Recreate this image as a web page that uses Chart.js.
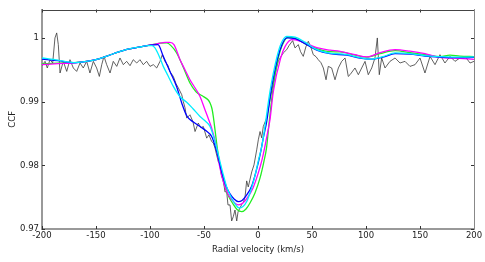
<!DOCTYPE html>
<html>
<head>
<meta charset="utf-8">
<script src="https://cdn.jsdelivr.net/npm/chart.js@4"></script>
<style>
  html, body { margin: 0; padding: 0; background: #fff; }
  #wrap { width: 485px; height: 262px; position: relative; }
</style>
</head>
<body>
<div id="wrap"><canvas id="ccf-chart"></canvas></div>
<script>
// Axis ticks
var xTicks = [-200, -150, -100, -50, 0, 50, 100, 150, 200];
var yTicks = [0.97, 0.98, 0.99, 1];

// Observed CCF (noisy, black)
var obsV = [-200, -197.2, -195.1, -192.6, -190.1, -188.0, -186.4, -184.9, -183.3, -180.3,
    -177.1, -174.1, -171.0, -167.9, -164.8, -161.8, -158.6, -155.6, -152.5, -149.4,
    -146.9, -144.7, -142.6, -140.1, -137.0, -134.0, -130.8, -127.8, -124.7, -121.6,
    -118.5, -115.5, -112.3, -109.3, -106.2, -103.1, -100, -96.9, -93.8, -90.7,
    -88.6, -86.1, -83.3, -81.5, -78.4, -75.9, -73.8, -70.6, -69.2, -67.6,
    -66.0, -63.0, -60.2, -58.3, -55.3, -52.8, -50.6, -47.5, -45.4, -42.9,
    -41.4, -39.8, -36.8, -35.2, -33.8, -32.1, -30.6, -29.0, -27.8, -25.9,
    -24.4, -22.9, -21.3, -19.7, -18.5, -16.7, -14.8, -13.6, -12.0, -10.5,
    -9.0, -5.8, -3.7, -1.2, 0.3, 1.9, 3.4, 4.9, 8.1, 11.1,
    13.9, 16.7, 18.8, 20.4, 23.4, 26.6, 28.7, 32.1, 34.3, 37.3,
    39.4, 41.9, 44.4, 46.6, 49.1, 51.2, 53.7, 55.8, 58.3, 60.5,
    63.0, 65.1, 68.2, 71.3, 74.4, 77.5, 80.6, 83.6, 85.2, 89.8,
    92.9, 96.0, 99.1, 102.1, 105.3, 108.3, 110.5, 112.3, 114.5, 117.6,
    122.2, 126.9, 131.5, 136.1, 140.7, 145.4, 150, 154.6, 159.3, 163.9,
    168.5, 173.1, 177.8, 182.4, 187.0, 191.7, 196.3, 200];
var obsCCF = [0.99567, 0.99635, 0.99531, 0.99661, 0.99609, 1.00003, 1.00082, 0.99898, 0.99452, 0.99635,
    0.99477, 0.99661, 0.99531, 0.99477, 0.99609, 0.99531, 0.99635, 0.99452, 0.99635, 0.99531,
    0.99398, 0.99583, 0.99713, 0.99583, 0.99452, 0.99635, 0.99556, 0.99688, 0.99583, 0.99635,
    0.99567, 0.99661, 0.99609, 0.99661, 0.99583, 0.99635, 0.99556, 0.99583, 0.99531, 0.99635,
    0.99740, 0.99635, 0.99567, 0.99472, 0.99398, 0.99284, 0.99220, 0.99110, 0.99005, 0.98906,
    0.98743, 0.98795, 0.98685, 0.98532, 0.98665, 0.98591, 0.98611, 0.98428, 0.98480, 0.98375,
    0.98354, 0.98271, 0.98060, 0.98008, 0.97835, 0.97772, 0.97583, 0.97587, 0.97378, 0.97378,
    0.97126, 0.97194, 0.97299, 0.97126, 0.97268, 0.97331, 0.97394, 0.97414, 0.97504, 0.97756,
    0.97661, 0.97898, 0.98008, 0.98244, 0.98402, 0.98532, 0.98433, 0.98611, 0.98748, 0.99031,
    0.99268, 0.99504, 0.99635, 0.99688, 0.99767, 0.99819, 0.99882, 0.99961, 0.99846, 0.99898,
    0.99787, 0.99713, 0.99866, 0.99950, 0.99850, 0.99740, 0.99709, 0.99661, 0.99614, 0.99531,
    0.99346, 0.99556, 0.99531, 0.99346, 0.99531, 0.99635, 0.99688, 0.99398, 0.99425, 0.99531,
    0.99425, 0.99531, 0.99635, 0.99425, 0.99531, 0.99688, 1.00003, 0.99425, 0.99688, 0.99531,
    0.99635, 0.99688, 0.99609, 0.99635, 0.99556, 0.99583, 0.99688, 0.99452, 0.99713, 0.99583,
    0.99740, 0.99609, 0.99713, 0.99635, 0.99688, 0.99713, 0.99609, 0.99635];

// Model fits
var greenV = [-200, -185.2, -170.4, -160.2, -150, -139.8, -129.6, -120.4, -110.2, -100,
    -90.7, -84.5, -80.6, -75.3, -69.4, -63.0, -57.4, -50.6, -46.3, -44.4,
    -42.6, -41.4, -39.8, -37.7, -35.6, -33.6, -30.6, -26.9, -23.1, -19.4,
    -15.1, -11.1, -7.4, -2.8, 1.9, 5.6, 7.9, 10.2, 13.6, 18.8,
    22.2, 27.8, 34.3, 43.5, 54.4, 66.7, 75.9, 89.8, 100.6, 113.0,
    126.9, 140.7, 154.6, 168.5, 177.8, 187.0, 200];
var greenCCF = [0.99594, 0.99606, 0.99614, 0.99630, 0.99661, 0.99717, 0.99780, 0.99827, 0.99858, 0.99890,
    0.99921, 0.99924, 0.99882, 0.99767, 0.99551, 0.99294, 0.99158, 0.99083, 0.99031, 0.98980,
    0.98890, 0.98769, 0.98559, 0.98271, 0.98039, 0.97850, 0.97661, 0.97504, 0.97394, 0.97307,
    0.97272, 0.97315, 0.97409, 0.97567, 0.97803, 0.98071, 0.98276, 0.98654, 0.99162, 0.99688,
    0.99882, 1.00013, 1.00000, 0.99913, 0.99835, 0.99787, 0.99783, 0.99732, 0.99701, 0.99756,
    0.99803, 0.99772, 0.99740, 0.99709, 0.99732, 0.99717, 0.99709];

var magentaV = [-200, -185.2, -170.4, -160.2, -150, -139.8, -129.6, -120.4, -110.2, -100,
    -92.6, -86.1, -81.5, -77.8, -72.2, -67.6, -63.0, -53.7, -49.1, -46.3,
    -42.9, -38.9, -35.2, -31.5, -27.8, -24.1, -18.2, -13.9, -9.3, -4.6,
    0, 3.7, 6.5, 8.3, 11.1, 14.2, 21.0, 25.0, 31.2, 38.9,
    54.4, 66.7, 75.9, 89.8, 100.6, 113.0, 126.9, 140.7, 154.6, 168.5,
    182.4, 200];
var magentaCCF = [0.99583, 0.99598, 0.99609, 0.99630, 0.99661, 0.99717, 0.99780, 0.99827, 0.99858, 0.99890,
    0.99913, 0.99934, 0.99934, 0.99898, 0.99661, 0.99504, 0.99346, 0.99083, 0.98874, 0.98748,
    0.98586, 0.98323, 0.97956, 0.97709, 0.97551, 0.97457, 0.97378, 0.97409, 0.97504, 0.97646,
    0.97866, 0.98087, 0.98307, 0.98465, 0.98717, 0.99162, 0.99688, 0.99866, 0.99976, 0.99953,
    0.99850, 0.99811, 0.99792, 0.99740, 0.99704, 0.99772, 0.99819, 0.99795, 0.99756, 0.99698,
    0.99685, 0.99666];

var blueV = [-200, -185.2, -170.4, -160.2, -150, -139.8, -129.6, -120.4, -110.2, -100,
    -92.6, -87.7, -81.5, -75.3, -70.4, -66.0, -60.2, -53.7, -48.1, -42.9,
    -38.2, -33.6, -29.6, -25.9, -22.2, -18.2, -14.8, -11.1, -5.8, -1.9,
    1.9, 5.1, 8.1, 12.0, 18.2, 22.2, 26.6, 34.3, 43.5, 54.4,
    66.7, 82.1, 94.4, 103.7, 115.7, 126.9, 140.7, 154.6, 168.5, 182.4,
    200];
var blueCCF = [0.99672, 0.99646, 0.99614, 0.99630, 0.99661, 0.99717, 0.99780, 0.99827, 0.99858, 0.99890,
    0.99898, 0.99713, 0.99477, 0.99236, 0.98969, 0.98780, 0.98685, 0.98611, 0.98543, 0.98454,
    0.98217, 0.97898, 0.97677, 0.97551, 0.97472, 0.97430, 0.97449, 0.97520, 0.97677, 0.97898,
    0.98165, 0.98449, 0.98690, 0.99162, 0.99688, 0.99898, 1.00003, 0.99992, 0.99913, 0.99811,
    0.99756, 0.99732, 0.99685, 0.99669, 0.99700, 0.99756, 0.99748, 0.99717, 0.99701, 0.99693,
    0.99696];

var cyanV = [-200, -185.2, -170.4, -160.2, -150, -139.8, -129.6, -120.4, -110.2, -101.9,
    -98.1, -95.4, -91.7, -87.7, -83.3, -78.4, -72.2, -66.0, -60.2, -53.7,
    -48.1, -44.4, -39.8, -35.2, -32.1, -28.7, -25.0, -21.3, -17.6, -13.9,
    -10.2, -6.5, -2.8, 0.5, 3.2, 5.6, 7.1, 11.1, 17.3, 21.3,
    26.6, 34.3, 43.5, 54.4, 66.7, 82.1, 94.4, 103.7, 115.7, 126.9,
    140.7, 154.6, 168.5, 182.4, 200];
var cyanCCF = [0.99688, 0.99654, 0.99614, 0.99630, 0.99661, 0.99717, 0.99780, 0.99827, 0.99858, 0.99882,
    0.99882, 0.99846, 0.99724, 0.99556, 0.99409, 0.99241, 0.99079, 0.98992, 0.98890, 0.98769,
    0.98685, 0.98611, 0.98375, 0.98060, 0.97850, 0.97646, 0.97504, 0.97394, 0.97331, 0.97354,
    0.97441, 0.97614, 0.97835, 0.98087, 0.98276, 0.98512, 0.98690, 0.99162, 0.99688, 0.99913,
    1.00028, 1.00016, 0.99937, 0.99819, 0.99764, 0.99740, 0.99693, 0.99669, 0.99709, 0.99767,
    0.99756, 0.99724, 0.99709, 0.99701, 0.99704];

(function() {
    'use strict';

    function toPoints(xs, ys) {
        var pts = [];
        for (var i = 0; i < xs.length; i++) {
            pts.push({ x: xs[i], y: ys[i] });
        }
        return pts;
    }

    // higher order = drawn earlier (underneath)
    function modelSet(label, xs, ys, color, order) {
        return {
            label: label,
            data: toPoints(xs, ys),
            borderColor: color,
            borderWidth: 1.3,
            pointRadius: 0,
            fill: false,
            order: order,
            cubicInterpolationMode: 'monotone'
        };
    }

    var FONT = 'DejaVu Sans';

    // inward tick marks + top/right frame, like the matplotlib original
    var frame = {
        id: 'frame',
        afterDatasetsDraw: function(chart) {
            var ctx = chart.ctx;
            var a = chart.chartArea;
            var xs = chart.scales.x, ys = chart.scales.y;
            ctx.save();
            ctx.strokeStyle = '#333';
            ctx.lineWidth = 1;
            ctx.beginPath();
            xTicks.forEach(function(t) {
                var px = Math.round(xs.getPixelForValue(t)) + 0.5;
                ctx.moveTo(px, a.bottom); ctx.lineTo(px, a.bottom - 3);
                ctx.moveTo(px, a.top); ctx.lineTo(px, a.top + 3);
            });
            yTicks.forEach(function(t) {
                var py = Math.round(ys.getPixelForValue(t)) + 0.5;
                ctx.moveTo(a.left, py); ctx.lineTo(a.left + 3, py);
                ctx.moveTo(a.right, py); ctx.lineTo(a.right - 3, py);
            });
            ctx.stroke();
            ctx.strokeStyle = '#444';
            ctx.beginPath();
            ctx.moveTo(a.left, Math.round(a.top) + 0.5);
            ctx.lineTo(a.right, Math.round(a.top) + 0.5);
            ctx.stroke();
            ctx.strokeStyle = '#888';
            ctx.beginPath();
            ctx.moveTo(Math.round(a.right) + 0.5, a.top);
            ctx.lineTo(Math.round(a.right) + 0.5, a.bottom);
            ctx.stroke();
            ctx.restore();
        }
    };

    new Chart(document.getElementById('ccf-chart').getContext('2d'), {
        type: 'line',
        data: {
            datasets: [
                {
                    label: 'Observed',
                    data: toPoints(obsV, obsCCF),
                    borderColor: '#3a3a3a',
                    borderWidth: 0.8,
                    pointRadius: 0,
                    fill: false,
                    order: 5,
                    tension: 0
                },
                modelSet('Model 1', greenV, greenCCF, '#22ee22', 4),
                modelSet('Model 2', magentaV, magentaCCF, '#ff00ff', 3),
                modelSet('Model 3', blueV, blueCCF, '#0000ff', 2),
                modelSet('Model 4', cyanV, cyanCCF, '#00eeff', 1)
            ]
        },
        options: {
            responsive: true,
            maintainAspectRatio: false,
            animation: false,
            devicePixelRatio: 1,
            layout: { padding: { left: 0, right: 11, top: 9.5, bottom: 0 } },
            plugins: {
                legend: { display: false },
                tooltip: { enabled: false }
            },
            scales: {
                x: {
                    type: 'linear',
                    min: -200,
                    max: 200,
                    afterBuildTicks: function(scale) {
                        scale.ticks = xTicks.map(function(v) { return { value: v }; });
                    },
                    afterFit: function(scale) { scale.height = 33; },
                    grid: { drawOnChartArea: false, drawTicks: false },
                    border: { color: '#999', width: 2 },
                    ticks: {
                        padding: 2,
                        maxRotation: 0,
                        color: '#222',
                        font: { family: FONT, size: 8.5 }
                    },
                    title: {
                        display: true,
                        text: 'Radial velocity (km/s)',
                        color: '#222',
                        font: { family: FONT, size: 8.5 },
                        padding: { top: 0, bottom: 7 }
                    }
                },
                y: {
                    type: 'linear',
                    min: 0.97,
                    max: 1.0045,
                    afterBuildTicks: function(scale) {
                        scale.ticks = yTicks.map(function(v) { return { value: v }; });
                    },
                    afterFit: function(scale) { scale.width = 42; },
                    grid: { drawOnChartArea: false, drawTicks: false },
                    border: { color: '#999', width: 2 },
                    ticks: {
                        padding: 3,
                        color: '#222',
                        font: { family: FONT, size: 8.5 },
                        callback: function(v) { return v === 1 ? '1' : v.toFixed(2); }
                    },
                    title: {
                        display: true,
                        text: 'CCF',
                        color: '#222',
                        font: { family: FONT, size: 8.5 },
                        padding: { top: 8, bottom: 0 }
                    }
                }
            }
        },
        plugins: [frame]
    });
})();
</script>
</body>
</html>
